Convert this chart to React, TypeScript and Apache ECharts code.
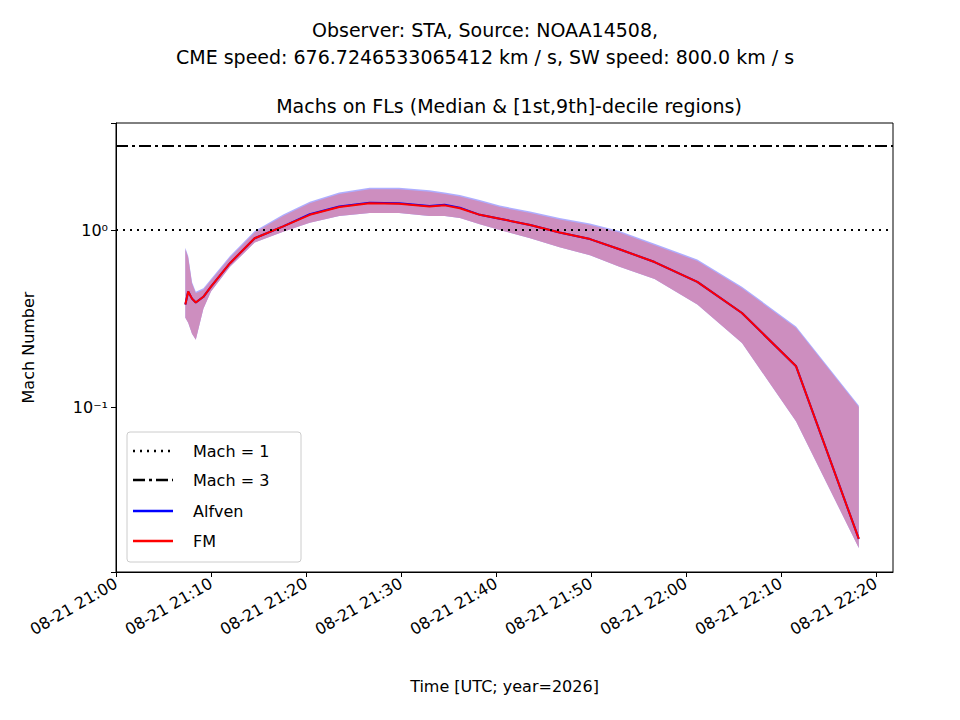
import React, { useEffect, useRef } from "react";
import * as echarts from "echarts";

// minutes after 08-21 21:00 UTC
const times = [7.3, 7.6, 8.0, 8.4, 9.2, 10.0, 12.0, 14.6, 17.6, 20.4, 23.5, 26.7, 29.8, 33.0, 34.6, 36.2, 38.3, 40.4, 43.6, 46.7, 49.9, 53.0, 56.7, 61.2, 65.9, 71.6, 78.2];
const fm = [0.38, 0.45, 0.41, 0.39, 0.42, 0.48, 0.65, 0.9, 1.05, 1.22, 1.35, 1.42, 1.41, 1.36, 1.38, 1.33, 1.22, 1.16, 1.07, 0.97, 0.89, 0.78, 0.66, 0.51, 0.34, 0.17, 0.018];
const alfven = [0.38, 0.45, 0.41, 0.39, 0.42, 0.48, 0.65, 0.9, 1.05, 1.23, 1.36, 1.43, 1.42, 1.37, 1.39, 1.34, 1.22, 1.16, 1.07, 0.97, 0.89, 0.78, 0.66, 0.51, 0.34, 0.17, 0.018];
const lower = [0.32, 0.3, 0.26, 0.24, 0.36, 0.45, 0.62, 0.85, 0.98, 1.1, 1.2, 1.25, 1.25, 1.2, 1.2, 1.17, 1.08, 1.0, 0.9, 0.8, 0.72, 0.62, 0.53, 0.38, 0.23, 0.083, 0.016];
const upper = [0.78, 0.7, 0.5, 0.44, 0.46, 0.52, 0.7, 0.97, 1.2, 1.42, 1.6, 1.7, 1.7, 1.65, 1.6, 1.55, 1.45, 1.35, 1.25, 1.15, 1.07, 0.97, 0.82, 0.67, 0.47, 0.28, 0.1];

const FONT = "DejaVu Sans";

export default function App() {
  const ref = useRef<HTMLDivElement>(null);

  useEffect(() => {
    if (!ref.current) return;
    const chart = echarts.init(ref.current, null, { renderer: "svg" });
    const band = times.map((t, i) => [t, lower[i], upper[i]]);
    const legendItems = [
      { y: 451, color: "#000", dash: [2, 5], label: "Mach = 1" },
      { y: 480, color: "#000", dash: [12, 4, 3, 4], label: "Mach = 3" },
      { y: 511, color: "#0000ff", dash: null, label: "Alfven" },
      { y: 541, color: "#ff0000", dash: null, label: "FM" },
    ];
    chart.setOption({
      animation: false,
      textStyle: { fontFamily: FONT },
      title: [
        { text: "Observer: STA, Source: NOAA14508,\nCME speed: 676.7246533065412 km / s, SW speed: 800.0 km / s", left: 480, top: 11, textAlign: "center", textStyle: { fontSize: 19, fontWeight: "normal", lineHeight: 27, color: "#000" } },
        { text: "Machs on FLs (Median & [1st,9th]-decile regions)", left: 504, top: 91, textAlign: "center", textStyle: { fontSize: 19, fontWeight: "normal", color: "#000" } },
      ],
      grid: { left: 116, right: 67, top: 123, bottom: 148, show: true, borderColor: "#000", borderWidth: 1 },
      xAxis: {
        type: "value", min: 0, max: 81.8, interval: 10,
        name: "Time [UTC; year=2026]", nameLocation: "middle", nameGap: 106,
        nameTextStyle: { fontSize: 16, color: "#000" },
        axisLine: { onZero: false, lineStyle: { color: "#000" } },
        axisTick: { length: 5, lineStyle: { color: "#000" } },
        splitLine: { show: false },
        axisLabel: {
          rotate: 30, fontSize: 16, color: "#000", showMaxLabel: false, margin: 10,
          formatter: (v: number) => {
            const h = 21 + Math.floor(v / 60);
            const m = Math.round(v % 60);
            return `08-21 ${h}:${String(m).padStart(2, "0")}`;
          },
        },
      },
      yAxis: {
        type: "log", logBase: 10, min: 0.0117, max: 4.03,
        name: "Mach Number", nameLocation: "middle", nameGap: 80,
        nameTextStyle: { fontSize: 16, color: "#000" },
        axisLine: { show: true, lineStyle: { color: "#000" } },
        axisTick: { show: true, length: 5, lineStyle: { color: "#000" } },
        splitLine: { show: false },
        axisLabel: {
          fontSize: 16, color: "#000",
          formatter: (v: number) => (Math.abs(v - 1) < 1e-6 ? "10⁰" : Math.abs(v - 0.1) < 1e-6 ? "10⁻¹" : ""),
        },
      },
      series: [
        {
          type: "custom",
          data: band,
          renderItem: (params: any, api: any) => {
            if (params.dataIndex !== 0) return null;
            const top = band.map((d) => api.coord([d[0], d[2]]));
            const bot = band.map((d) => api.coord([d[0], d[1]])).reverse();
            return {
              type: "group",
              children: [
                { type: "polygon", shape: { points: top.map((p: number[]) => [p[0], p[1] - 1.5]).concat(bot) }, style: { fill: "rgba(120,120,255,0.6)" } },
                { type: "polygon", shape: { points: top.concat(bot) }, style: { fill: "#cd8ebf" } },
              ],
            };
          },
          z: 1,
        },
        {
          type: "line", data: times.map((t, i) => [t, alfven[i]]), showSymbol: false,
          lineStyle: { color: "#0000ff", width: 2 }, z: 3,
          markLine: {
            symbol: "none", silent: true, label: { show: false },
            data: [
              { yAxis: 1, lineStyle: { color: "#000", type: [2, 5], width: 2 } },
              { yAxis: 3, lineStyle: { color: "#000", type: [12, 4, 3, 4], width: 2 } },
            ],
          },
        },
        { type: "line", data: times.map((t, i) => [t, fm[i]]), showSymbol: false, lineStyle: { color: "#ff0000", width: 2 }, z: 4 },
      ],
      graphic: [
        { type: "rect", shape: { x: 127, y: 432, width: 174, height: 130, r: 3 }, style: { fill: "rgba(255,255,255,0.8)", stroke: "#ccc" }, z: 100 },
        ...legendItems.flatMap((it) => [
          { type: "line", shape: { x1: 133, y1: it.y, x2: 173, y2: it.y }, style: { stroke: it.color, lineWidth: 2.5, lineDash: it.dash || undefined }, z: 101 },
          { type: "text", x: 193, y: it.y, style: { text: it.label, fontSize: 16, fontFamily: FONT, fill: "#000", verticalAlign: "middle" }, z: 101 },
        ]),
      ],
    });
    return () => chart.dispose();
  }, []);

  return <div ref={ref} style={{ width: 960, height: 720, margin: -8 }} />;
}
